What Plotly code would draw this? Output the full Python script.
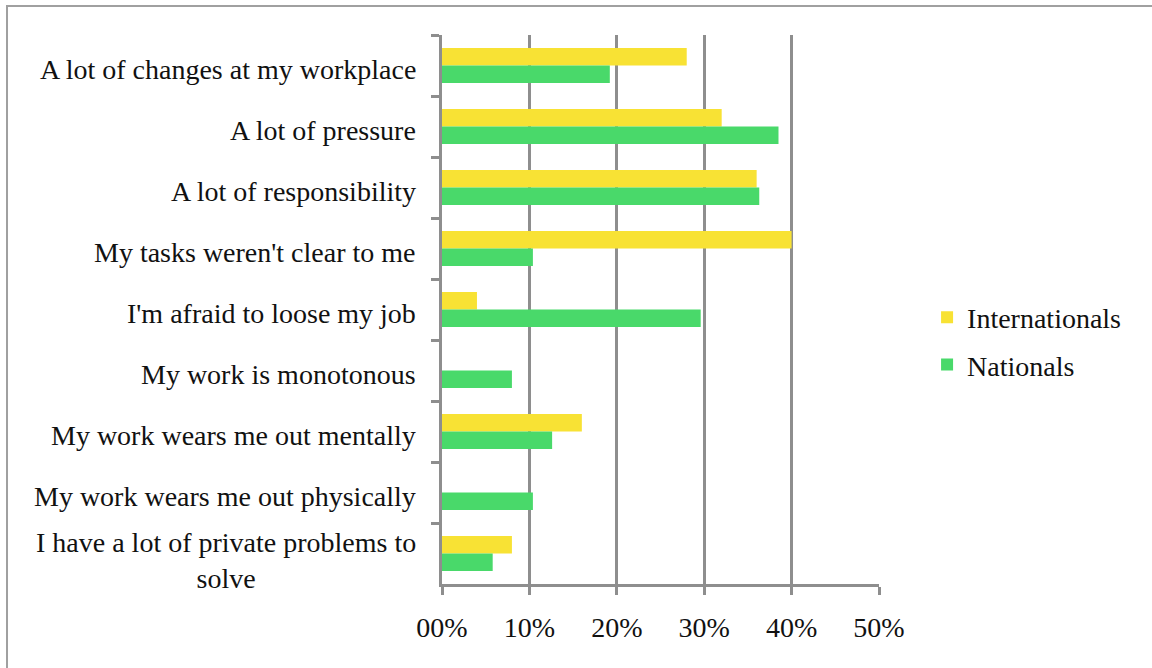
import plotly.graph_objects as go

# Survey answers: sources of stress at work, share of respondents per group
categories = [
    "A lot of changes at my workplace",
    "A lot of pressure",
    "A lot of responsibility",
    "My tasks weren't clear to me",
    "I'm afraid to loose my job",
    "My work is monotonous",
    "My work wears me out mentally",
    "My work wears me out physically",
    "I have a lot of private problems to<br>solve",
]
internationals = [0.28, 0.32, 0.36, 0.40, 0.04, 0.0, 0.16, 0.0, 0.08]
nationals = [0.192, 0.385, 0.363, 0.104, 0.296, 0.08, 0.126, 0.104, 0.058]

x_tick_values = [0.0, 0.1, 0.2, 0.3, 0.4, 0.5]
x_tick_labels = ["00%", "10%", "20%", "30%", "40%", "50%"]

FONT = "Liberation Serif, Times New Roman, serif"
GRID = "#8e8e8e"
YELLOW = "#F8E234"
GREEN = "#49D96A"
FS = 28

fig = go.Figure()
fig.add_trace(go.Bar(
    y=categories, x=internationals, orientation="h", name="Internationals",
    marker=dict(color=YELLOW, line=dict(width=0)), legendgroup="int",
))
fig.add_trace(go.Bar(
    y=categories, x=nationals, orientation="h", name="Nationals",
    marker=dict(color=GREEN, line=dict(width=0)), legendgroup="nat",
))

# Category labels, centred line by line to the left of the axis
for cat in categories:
    fig.add_annotation(
        x=0, xref="paper", y=cat, yref="y",
        text=cat, showarrow=False, xanchor="right", yanchor="middle",
        align="center", xshift=-24, yshift=-7 if "<br>" in cat else -4,
        font=dict(family=FONT, size=FS, color="#111111"),
    )

# Outer frame of the chart
fig.add_shape(
    type="rect", xref="paper", yref="paper",
    x0=-0.9954, x1=1.65, y0=-0.2, y1=1.0528,
    line=dict(color="#a0a0a0", width=2), fillcolor="rgba(0,0,0,0)", layer="below",
)

fig.update_layout(
    width=1152, height=668,
    margin=dict(l=442, r=273, t=35, b=84),
    paper_bgcolor="white", plot_bgcolor="white",
    barmode="group", bargap=0.426, bargroupgap=0,
    font=dict(family=FONT, size=FS, color="#111111"),
    legend=dict(
        x=1.11, xanchor="left", y=0.4426, yanchor="middle",
        font=dict(family=FONT, size=FS, color="#111111"),
        traceorder="grouped", tracegroupgap=8,
        bgcolor="rgba(0,0,0,0)",
    ),
    showlegend=True,
)

fig.update_xaxes(
    range=[0, 0.5], tickvals=x_tick_values, ticktext=x_tick_labels,
    showgrid=True, gridcolor=GRID, gridwidth=2.5,
    showline=True, linecolor=GRID, linewidth=2.5,
    ticks="outside", ticklen=8, tickwidth=2.5, tickcolor=GRID,
    ticklabelstandoff=9, zeroline=False,
    tickfont=dict(family=FONT, size=FS, color="#111111"),
)
fig.update_yaxes(
    categoryorder="array", categoryarray=categories, autorange="reversed",
    showticklabels=False, showgrid=False,
    showline=True, linecolor=GRID, linewidth=2.5,
    ticks="outside", tickson="boundaries", ticklen=8, tickwidth=2.5, tickcolor=GRID,
)

fig.write_html("out.html")
